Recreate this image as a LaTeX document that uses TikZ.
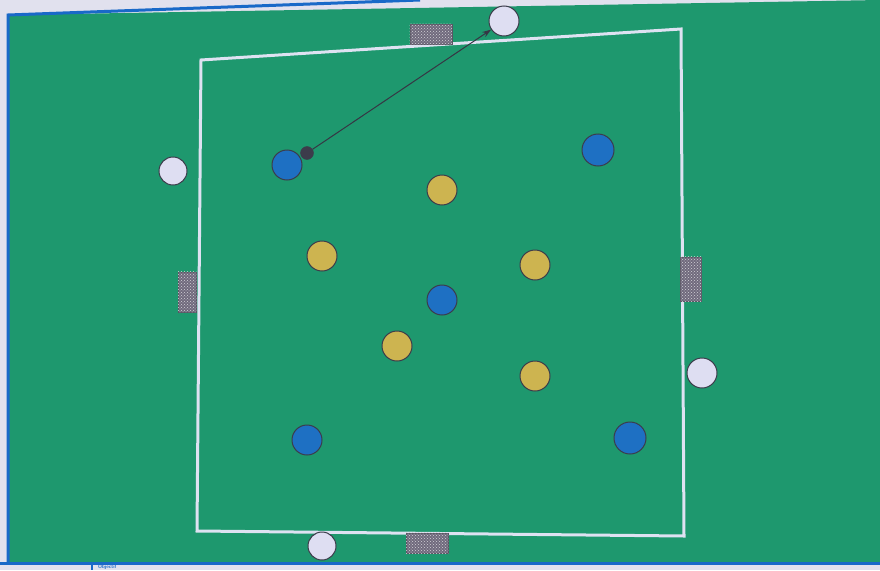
\documentclass[tikz,border=0pt]{standalone}
\usetikzlibrary{arrows.meta,patterns}
\definecolor{field}{RGB}{30,152,110}
\definecolor{edge}{RGB}{25,105,200}
\definecolor{pblue}{RGB}{30,112,195}
\definecolor{pyellow}{RGB}{205,180,80}
\definecolor{pwhite}{RGB}{222,222,242}
\definecolor{goalc}{RGB}{112,106,125}
\definecolor{linec}{RGB}{222,226,242}
\definecolor{paper}{RGB}{225,225,238}
\definecolor{outl}{RGB}{60,60,75}
\tikzset{
  player/.style={circle,draw=outl,line width=1pt,minimum size=30pt,inner sep=0pt},
  blueP/.style={player,fill=pblue},
  yellowP/.style={player,fill=pyellow},
  whiteP/.style={player,fill=pwhite},
  goal/.style={draw=goalc!80!black,fill=goalc,line width=0.6pt,inner sep=0pt},
  ball/.style={circle,fill=outl,draw=outl,minimum size=13pt,inner sep=0pt},
  pass/.style={draw=outl!90!black,line width=1pt,-{Stealth[length=9pt,width=6pt]}},
}
\begin{document}
\begin{tikzpicture}[x=1pt,y=-1pt]
\useasboundingbox (0,0) rectangle (880,570);
\fill[paper] (0,0) rectangle (880,570);
% outer field
\fill[field] (8,15) -- (880,0) -- (880,563) -- (8,563) -- cycle;
\draw[edge,line width=3pt] (8,563) -- (8,15) -- (420,0);
\draw[edge,line width=3pt] (0,563) -- (880,563);
% bottom strip
\draw[edge,line width=2pt] (92,563) -- (92,570);
\node[anchor=west,text=edge,font=\sffamily\bfseries\fontsize{5}{5}\selectfont,inner sep=0pt] (obj) at (98,567.5) {Objectif};
% inner square
\draw[linec,line width=3pt] (201,60) -- (681,29) -- (684,536) -- (197,531) -- cycle;
% goals
\node[goal,minimum width=42pt,minimum height=20pt] (gt) at (431,34) {};
\node[goal,minimum width=18pt,minimum height=40pt] (gl) at (187,292) {};
\node[goal,minimum width=21pt,minimum height=44pt] (gr) at (691,279) {};
\node[goal,minimum width=42pt,minimum height=20pt] (gb) at (427,543) {};
\foreach \g in {gt,gl,gr,gb}{
  \fill[pattern=crosshatch dots,pattern color=white!70!goalc] (\g.south west) rectangle (\g.north east);
}
% players
\node[whiteP] (w1) at (504,21) {};
\node[whiteP,minimum size=28pt] (w2) at (173,171) {};
\node[whiteP] (w3) at (702,373) {};
\node[whiteP,minimum size=28pt] (w4) at (322,546) {};
\node[blueP] (b1) at (287,165) {};
\node[blueP,minimum size=32pt] (b2) at (598,150) {};
\node[blueP] (b3) at (442,300) {};
\node[blueP] (b4) at (307,440) {};
\node[blueP,minimum size=32pt] (b5) at (630,438) {};
\node[yellowP] (y1) at (442,190) {};
\node[yellowP] (y2) at (322,256) {};
\node[yellowP] (y3) at (535,265) {};
\node[yellowP] (y4) at (397,346) {};
\node[yellowP] (y5) at (535,376) {};
% ball and pass
\node[ball] (ball) at (307,153) {};
\draw[pass] (ball) -- (w1);
\end{tikzpicture}
\end{document}
